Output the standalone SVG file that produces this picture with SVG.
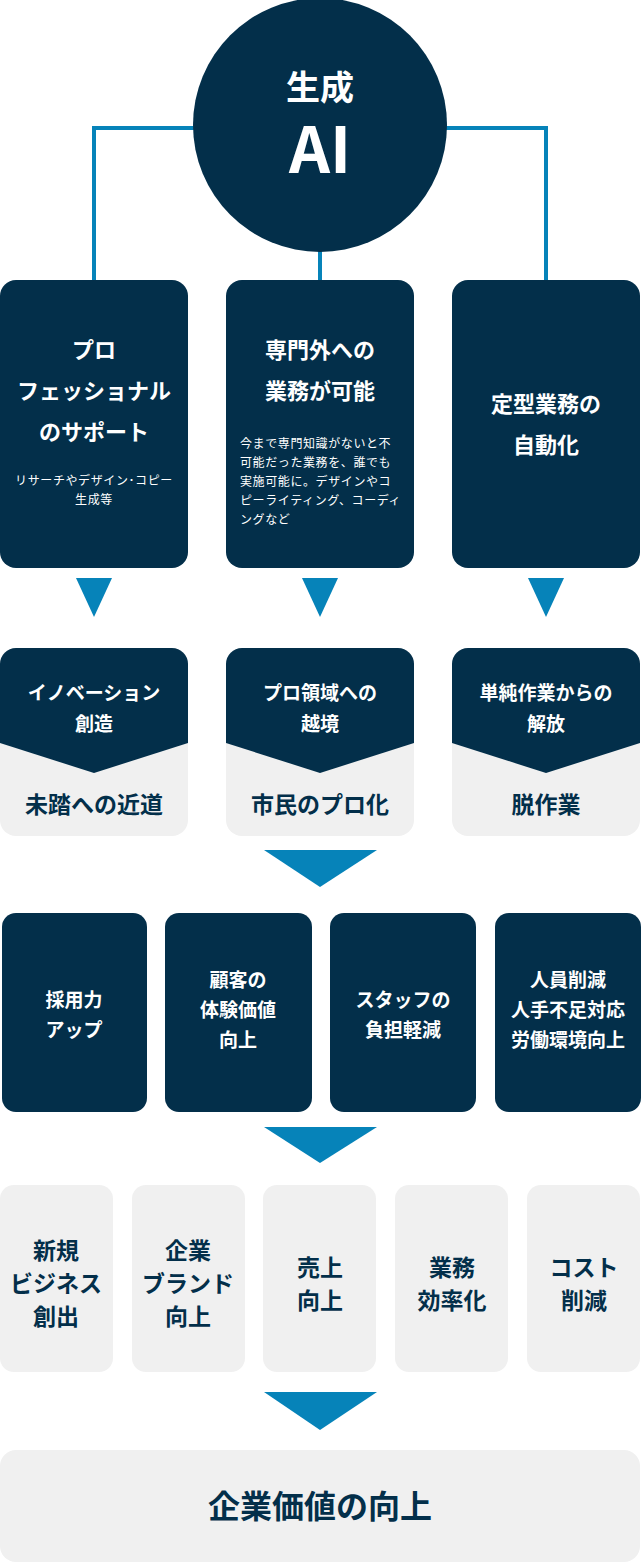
<svg xmlns="http://www.w3.org/2000/svg" width="641" height="1563" viewBox="0 0 641 1563">
<style>
.d{fill:#032f4a}.l{fill:#f0f0f0}.b{fill:#0683b9}
text{font-family:"Noto Sans CJK JP","Noto Sans",sans-serif;font-weight:700;text-anchor:middle}
.w{fill:#fff}.k{fill:#032f4a}
.t{font-size:22px}.s{font-size:12px;font-weight:400;letter-spacing:0.6px}.m{font-size:19px}.g{font-size:23px}
</style>
<rect width="641" height="1563" fill="#fff"/>
<g id="connectors" fill="none" stroke="#0683b9" stroke-width="4">
<path d="M200 128H94V280M440 128H546V280M320 250V280"/>
<g stroke="none" class="b">
<polygon points="76,578 112,578 94,617"/><polygon points="302,578 338,578 320,617"/><polygon points="528,578 564,578 546,617"/>
<polygon points="264,850 377,850 320,887"/><polygon points="264,1127 377,1127 320,1163"/><polygon points="264,1392 377,1392 320,1430"/>
</g>
</g>
<g id="ai"><circle class="d" cx="320" cy="125" r="127"/>
<text class="w" x="320" y="100" font-size="34">生成</text><text class="w" x="320" y="173" font-size="64" font-family="Roboto,sans-serif">AI</text></g>
<g id="n1"><rect class="d" x="0" y="280" width="188" height="288" rx="16"/>
<text class="w t" x="94" y="358">プロ</text><text class="w t" x="94" y="399">フェッショナル</text><text class="w t" x="94" y="440">のサポート</text>
<text class="w s" x="94" y="485">リサーチやデザイン･コピー</text><text class="w s" x="94" y="504">生成等</text></g>
<g id="n2"><rect class="d" x="226" y="280" width="188" height="288" rx="16"/>
<text class="w t" x="320" y="358">専門外への</text><text class="w t" x="320" y="399">業務が可能</text>
<text class="w s" x="240" y="448" style="text-anchor:start">今まで専門知識がないと不</text><text class="w s" x="240" y="467" style="text-anchor:start">可能だった業務を、誰でも</text><text class="w s" x="240" y="486" style="text-anchor:start">実施可能に。デザインやコ</text><text class="w s" x="240" y="505" style="text-anchor:start">ピーライティング、コーディ</text><text class="w s" x="240" y="524" style="text-anchor:start">ングなど</text></g>
<g id="n3"><rect class="d" x="452" y="280" width="188" height="288" rx="16"/>
<text class="w t" x="546" y="412">定型業務の</text><text class="w t" x="546" y="453">自動化</text></g>
<g id="r1"><rect class="l" x="0" y="648" width="188" height="188" rx="16"/><path class="d" d="M16 648H172A16 16 0 0 1 188 664V743L94 773L0 743V664A16 16 0 0 1 16 648Z"/>
<text class="w m" x="94" y="700" font-size="18">イノベーション</text><text class="w m" x="94" y="731">創造</text><text class="k g" x="94" y="813">未踏への近道</text></g>
<g id="r2"><rect class="l" x="226" y="648" width="188" height="188" rx="16"/><path class="d" d="M242 648H398A16 16 0 0 1 414 664V743L320 773L226 743V664A16 16 0 0 1 242 648Z"/>
<text class="w m" x="320" y="700">プロ領域への</text><text class="w m" x="320" y="731">越境</text><text class="k g" x="320" y="813">市民のプロ化</text></g>
<g id="r3"><rect class="l" x="452" y="648" width="188" height="188" rx="16"/><path class="d" d="M468 648H624A16 16 0 0 1 640 664V743L546 773L452 743V664A16 16 0 0 1 468 648Z"/>
<text class="w m" x="546" y="700">単純作業からの</text><text class="w m" x="546" y="731">解放</text><text class="k g" x="546" y="813">脱作業</text></g>
<g id="e1"><rect class="d" x="2" y="913" width="145" height="199" rx="14"/><text class="w m" x="74" y="1007">採用力</text><text class="w m" x="74" y="1037">アップ</text></g>
<g id="e2"><rect class="d" x="165" y="913" width="147" height="199" rx="14"/><text class="w m" x="238" y="987">顧客の</text><text class="w m" x="238" y="1017">体験価値</text><text class="w m" x="238" y="1047">向上</text></g>
<g id="e3"><rect class="d" x="330" y="913" width="146" height="199" rx="14"/><text class="w m" x="403" y="1007">スタッフの</text><text class="w m" x="403" y="1037">負担軽減</text></g>
<g id="e4"><rect class="d" x="495" y="913" width="146" height="199" rx="14"/><text class="w m" x="568" y="987">人員削減</text><text class="w m" x="568" y="1017">人手不足対応</text><text class="w m" x="568" y="1047">労働環境向上</text></g>
<g id="f1"><rect class="l" x="0" y="1185" width="113" height="187" rx="14"/><text class="k g" x="56" y="1259">新規</text><text class="k g" x="56" y="1292">ビジネス</text><text class="k g" x="56" y="1325">創出</text></g>
<g id="f2"><rect class="l" x="132" y="1185" width="113" height="187" rx="14"/><text class="k g" x="188" y="1259">企業</text><text class="k g" x="188" y="1292">ブランド</text><text class="k g" x="188" y="1325">向上</text></g>
<g id="f3"><rect class="l" x="263" y="1185" width="113" height="187" rx="14"/><text class="k g" x="320" y="1276">売上</text><text class="k g" x="320" y="1309">向上</text></g>
<g id="f4"><rect class="l" x="395" y="1185" width="113" height="187" rx="14"/><text class="k g" x="452" y="1276">業務</text><text class="k g" x="452" y="1309">効率化</text></g>
<g id="f5"><rect class="l" x="527" y="1185" width="113" height="187" rx="14"/><text class="k g" x="584" y="1276">コスト</text><text class="k g" x="584" y="1309">削減</text></g>
<g id="goal"><rect class="l" x="0" y="1450" width="640" height="112" rx="16"/><text class="k" x="320" y="1518" font-size="32">企業価値の向上</text></g>
</svg>
